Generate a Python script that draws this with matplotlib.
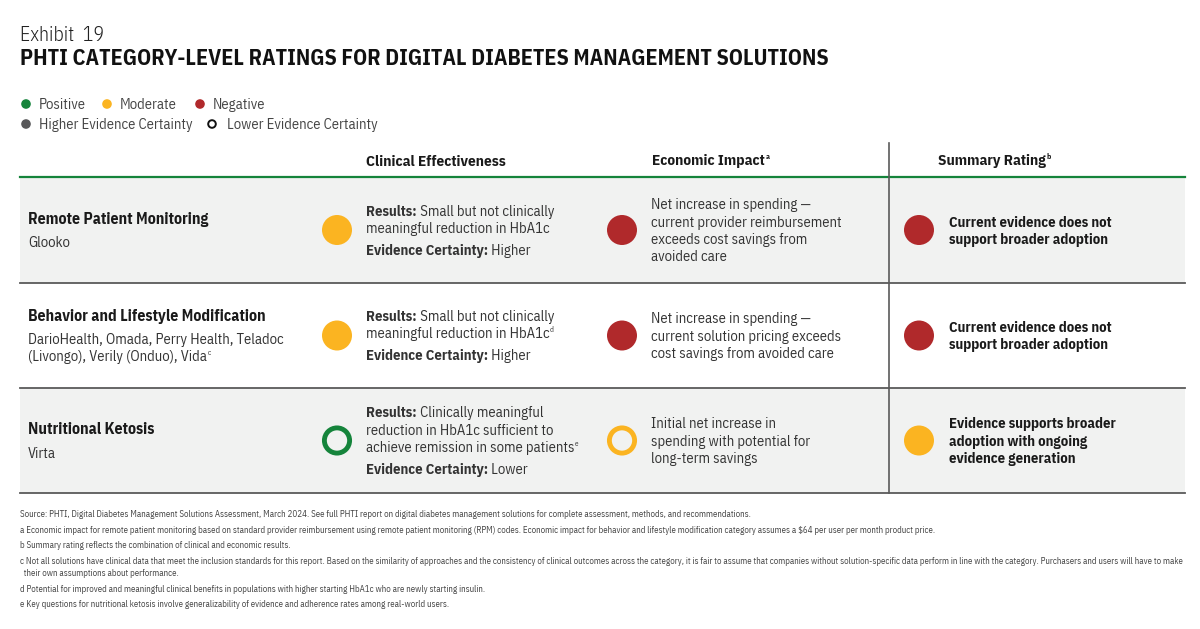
import matplotlib
matplotlib.use("Agg")
import matplotlib.pyplot as plt
from matplotlib.patches import Circle, Rectangle

plt.rcParams['font.family'] = ['IBM Plex Sans Condensed', 'Roboto Condensed',
                               'Liberation Sans Narrow', 'DejaVu Sans']

# --- DATA ---
exhibit = "Exhibit  19"
title = "PHTI CATEGORY-LEVEL RATINGS FOR DIGITAL DIABETES MANAGEMENT SOLUTIONS"

rating_names = ["Positive", "Moderate", "Negative"]
certainty_names = ["Higher Evidence Certainty", "Lower Evidence Certainty"]

column_headers = ["Clinical Effectiveness", "Economic Impact", "Summary Rating"]
column_notes = ["", "a", "b"]

categories = ["Remote Patient Monitoring",
              "Behavior and Lifestyle Modification",
              "Nutritional Ketosis"]
companies = [["Glooko"],
             ["DarioHealth, Omada, Perry Health, Teladoc",
              "(Livongo), Verily (Onduo), Vida"],
             ["Virta"]]
company_notes = ["", "c", ""]

clinical_rating = ["Moderate", "Moderate", "Positive"]
clinical_certainty = ["Higher", "Higher", "Lower"]
clinical_results = [["Small but not clinically", "meaningful reduction in HbA1c"],
                    ["Small but not clinically", "meaningful reduction in HbA1c"],
                    ["Clinically meaningful", "reduction in HbA1c sufficient to",
                     "achieve remission in some patients"]]
clinical_notes = ["", "d", "e"]

economic_rating = ["Negative", "Negative", "Moderate"]
economic_certainty = ["Higher", "Higher", "Lower"]
economic_text = [["Net increase in spending \u2014", "current provider reimbursement",
                  "exceeds cost savings from", "avoided care"],
                 ["Net increase in spending \u2014", "current solution pricing exceeds",
                  "cost savings from avoided care"],
                 ["Initial net increase in", "spending with potential for",
                  "long-term savings"]]

summary_rating = ["Negative", "Negative", "Moderate"]
summary_certainty = ["Higher", "Higher", "Higher"]
summary_text = [["Current evidence does not", "support broader adoption"],
                ["Current evidence does not", "support broader adoption"],
                ["Evidence supports broader", "adoption with ongoing",
                 "evidence generation"]]

footnotes = [
    ["Source: PHTI, Digital Diabetes Management Solutions Assessment, March 2024. See full PHTI report on digital diabetes management solutions for complete assessment, methods, and recommendations."],
    ["a Economic impact for remote patient monitoring based on standard provider reimbursement using remote patient monitoring (RPM) codes. Economic impact for behavior and lifestyle modification category assumes a $64 per user per month product price."],
    ["b Summary rating reflects the combination of clinical and economic results."],
    ["c Not all solutions have clinical data that meet the inclusion standards for this report. Based on the similarity of approaches and the consistency of clinical outcomes across the category, it is fair to assume that companies without solution-specific data perform in line with the category. Purchasers and users will have to make",
     "  their own assumptions about performance."],
    ["d Potential for improved and meaningful clinical benefits in populations with higher starting HbA1c who are newly starting insulin."],
    ["e Key questions for nutritional ketosis involve generalizability of evidence and adherence rates among real-world users."],
]

# --- STYLE ---
colors = {"Positive": "#15843b", "Moderate": "#fbb421", "Negative": "#b0292b"}
grey_dot = "#58585a"
dark = "#1a1a1a"
body = "#333333"
row_bg = "#f1f2f1"

fig = plt.figure(figsize=(12, 6.29), dpi=100)
ax = fig.add_axes([0, 0, 1, 1])
ax.set_xlim(0, 1200)
ax.set_ylim(629, 0)
ax.axis('off')
renderer = fig.canvas.get_renderer()


def runs(x, y, parts, size=10.5, color=body):
    # parts: list of (text, weight, is_superscript); y is the line's visual centre
    base = y + 0.36 * size * 100 / 72
    for txt, weight, sup in parts:
        if sup:
            t = ax.text(x + 0.5, base - 0.42 * size * 100 / 72, txt, fontsize=size * 0.5,
                        fontweight=weight, color=color, va='baseline', ha='left')
        else:
            t = ax.text(x, base, txt, fontsize=size, fontweight=weight,
                        color=color, va='baseline', ha='left')
        x += t.get_window_extent(renderer=renderer).width
    return x


def dot(x, y, rating, certainty, r=15):
    c = colors[rating]
    if certainty == "Higher":
        ax.add_patch(Circle((x, y), r, facecolor=c, edgecolor='none'))
    else:
        ax.add_patch(Circle((x, y), r - 2.4, facecolor='none', edgecolor=c, linewidth=3.5))


# header texts
ax.text(20, 41, exhibit, fontsize=14.2, fontweight=300, color='#222222', va='baseline')
ax.text(20, 65, title, fontsize=15.85, fontweight='bold', color='#111111', va='baseline')

# legend
leg_x = [26, 107, 200]
for name, lx in zip(rating_names, leg_x):
    ax.add_patch(Circle((lx, 104), 4.8, facecolor=colors[name], edgecolor='none'))
    runs(lx + 13, 104, [(name, 'normal', False)], size=10.5, color='#444444')
ax.add_patch(Circle((26, 124), 4.8, facecolor=grey_dot, edgecolor='none'))
runs(39, 124, [(certainty_names[0], 'normal', False)], size=10.5, color='#444444')
ax.add_patch(Circle((212, 124), 3.8, facecolor='none', edgecolor='#111111', linewidth=1.4))
runs(227, 124, [(certainty_names[1], 'normal', False)], size=10.5, color='#444444')

# table frame
row_edges = [177, 283, 388, 493]
for i in range(3):
    if i % 2 == 0:
        ax.add_patch(Rectangle((20, row_edges[i]), 1165, row_edges[i + 1] - row_edges[i],
                               facecolor=row_bg, edgecolor='none', zorder=0))
for yy in row_edges[1:]:
    ax.plot([20, 1185], [yy, yy], color='#5a5a5a', linewidth=1.3)
ax.plot([20, 1185], [177, 177], color='#15843b', linewidth=1.6)
ax.plot([889, 889], [143, 493], color='#5a5a5a', linewidth=1.2)

col_x = [366, 652, 938]
for hdr, note, hx in zip(column_headers, column_notes, col_x):
    parts = [(hdr, 'bold', False)]
    if note:
        parts.append((note, 'bold', True))
    runs(hx, 160, parts, size=11, color=dark)

# rows
dot_x = [337, 622, 919]
text_x = [366, 651, 949]
lh = 17.3
for i in range(3):
    yc = (row_edges[i] + row_edges[i + 1]) / 2

    # category label
    n = len(companies[i])
    top = yc - (24 + lh * (n - 1)) / 2
    runs(28, top, [(categories[i], 'bold', False)], size=11.3, color=dark)
    for j, line in enumerate(companies[i]):
        parts = [(line, 'normal', False)]
        if j == n - 1 and company_notes[i]:
            parts.append((company_notes[i], 'normal', True))
        runs(28, top + 24 + lh * j, parts, size=10.5)

    # clinical effectiveness
    dot(dot_x[0], yc, clinical_rating[i], clinical_certainty[i])
    res = clinical_results[i]
    n = len(res)
    top = yc - (lh * (n - 1) + 22) / 2
    for j, line in enumerate(res):
        parts = []
        if j == 0:
            parts.append(("Results:", 'bold', False))
            parts.append((" " + line, 'normal', False))
        else:
            parts.append((line, 'normal', False))
        if j == n - 1 and clinical_notes[i]:
            parts.append((clinical_notes[i], 'normal', True))
        runs(text_x[0], top + lh * j, parts, size=10.5)
    runs(text_x[0], top + lh * (n - 1) + 22,
         [("Evidence Certainty:", 'bold', False), (" " + clinical_certainty[i], 'normal', False)],
         size=10.5)

    # economic impact
    dot(dot_x[1], yc, economic_rating[i], economic_certainty[i])
    lines = economic_text[i]
    top = yc - lh * (len(lines) - 1) / 2
    for j, line in enumerate(lines):
        runs(text_x[1], top + lh * j, [(line, 'normal', False)], size=10.5)

    # summary rating
    dot(dot_x[2], yc, summary_rating[i], summary_certainty[i])
    lines = summary_text[i]
    top = yc - lh * (len(lines) - 1) / 2
    for j, line in enumerate(lines):
        runs(text_x[2], top + lh * j, [(line, 'bold', False)], size=10.5, color=dark)

# footnotes
fy = 514
for note in footnotes:
    for k, line in enumerate(note):
        runs(20, fy, [(line, 'normal', False)], size=6.37, color='#444444')
        fy += 12.5 if k < len(note) - 1 else 15.5

fig.savefig("out.png", dpi=100)
